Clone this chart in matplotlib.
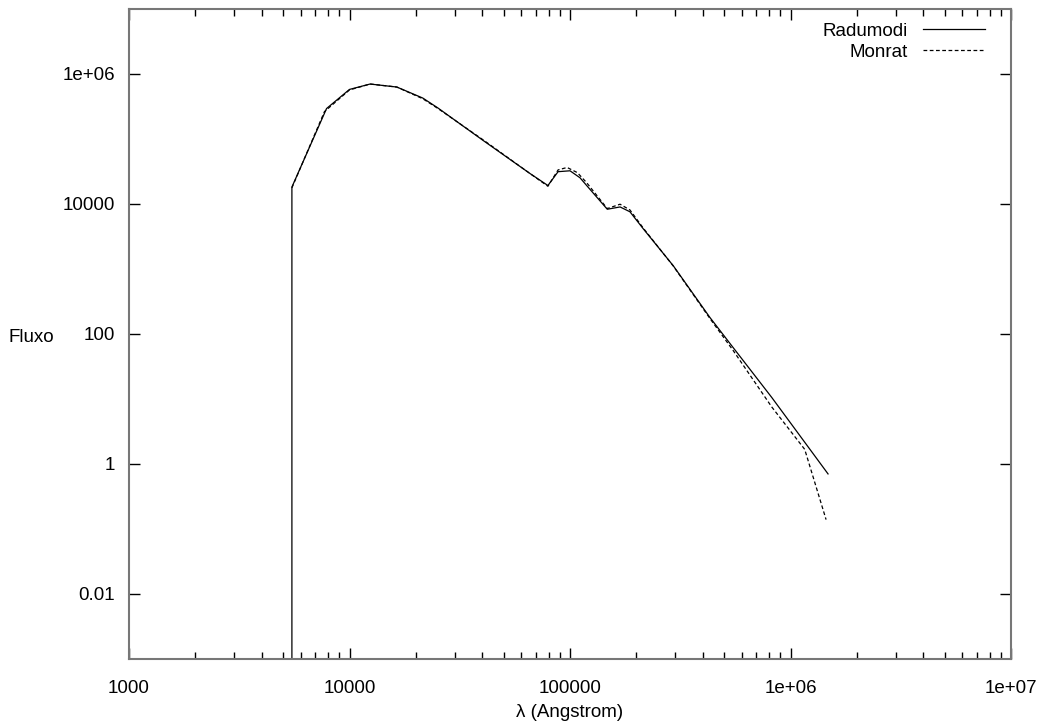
import matplotlib
matplotlib.use("Agg")
import matplotlib.pyplot as plt
import numpy as np
from matplotlib.ticker import FixedLocator, LogLocator, NullFormatter, NullLocator

plt.rcParams['font.family'] = ['Liberation Sans', 'DejaVu Sans']

# Radumodi (solid) - wavelength in Angstrom, flux
rad_wl = [5480, 5480, 7870, 10000, 12400, 16400, 21500, 25200, 40300, 65900,
          79400, 88300, 100000, 111000, 119000, 147600, 168700, 187000, 215000,
          294000, 431000, 550000, 822000, 1480000]
rad_flux = [1e-6, 1.8e4, 2.9e5, 5.7e5, 6.9e5, 6.2e5, 4.2e5, 2.95e5, 9.4e4, 2.9e4,
            1.9e4, 3.1e4, 3.2e4, 2.5e4, 1.9e4, 8.2e3, 8.9e3, 7.5e3, 4.1e3,
            1.11e3, 178, 61, 10.5, 0.70]

# Monrat (dashed)
mon_wl = [5480, 7700, 10000, 12400, 16400, 21500, 25200, 40300, 65900,
          79400, 88300, 97000, 108000, 119000, 147600, 168700, 187000, 215000,
          294000, 431000, 550000, 822000, 1160000, 1450000]
mon_flux = [1.75e4, 2.6e5, 5.6e5, 6.9e5, 6.2e5, 4.1e5, 2.9e5, 9.6e4, 2.9e4,
            1.85e4, 3.3e4, 3.6e4, 3.0e4, 2.1e4, 8.4e3, 9.8e3, 8.0e3, 4.2e3,
            1.1e3, 172, 55, 7.5, 1.67, 0.139]

xticks = [1e3, 1e4, 1e5, 1e6, 1e7]
xtick_labels = ["1000", "10000", "100000", "1e+06", "1e+07"]
yticks = [1e-2, 1, 1e2, 1e4, 1e6]
ytick_labels = ["0.01", "1", "100", "10000", "1e+06"]

fig = plt.figure(figsize=(10.4, 7.26), dpi=100)
ax = fig.add_axes([129 / 1040, 1 - 659 / 726, (1011 - 129) / 1040, (659 - 8.5) / 726])

ax.plot(rad_wl, rad_flux, color='black', lw=0.9, label='Radumodi')
ax.plot(mon_wl, mon_flux, color='black', lw=0.9, dashes=(3, 2), label='Monrat')

ax.set_xscale('log')
ax.set_yscale('log')
ax.set_xlim(1e3, 1e7)
ax.set_ylim(1e-3, 1e7)

ax.xaxis.set_major_locator(FixedLocator(xticks))
ax.set_xticklabels(xtick_labels)
ax.xaxis.set_minor_locator(LogLocator(base=10, subs=np.arange(2, 10)))
ax.xaxis.set_minor_formatter(NullFormatter())
ax.yaxis.set_major_locator(FixedLocator(yticks))
ax.set_yticklabels(ytick_labels)
ax.yaxis.set_minor_locator(NullLocator())

ax.tick_params(which='both', direction='in', top=True, right=True,
               labelsize=13.5, colors='black')
ax.tick_params(which='major', length=8, width=1)
ax.tick_params(which='minor', length=5, width=1)
ax.tick_params(axis='y', which='major', pad=10)
ax.tick_params(axis='x', which='major', pad=15)

for s in ax.spines.values():
    s.set_color('#777777')
    s.set_linewidth(1.5)

ax.set_xlabel('λ (Angstrom)', fontsize=13.5, labelpad=5)
ax.set_ylabel('Fluxo', fontsize=13.5, rotation=0, va='center', ha='center')
ax.yaxis.set_label_coords(-0.111, 0.495)

leg = ax.legend(loc='upper right', bbox_to_anchor=(0.979, 0.9895), frameon=False,
                fontsize=13.5, markerfirst=False, handlelength=3.3,
                handletextpad=0.8, borderaxespad=0, labelspacing=0.2)
for t in leg.get_texts():
    t.set_ha('right')

fig.savefig('out.png', dpi=100)
